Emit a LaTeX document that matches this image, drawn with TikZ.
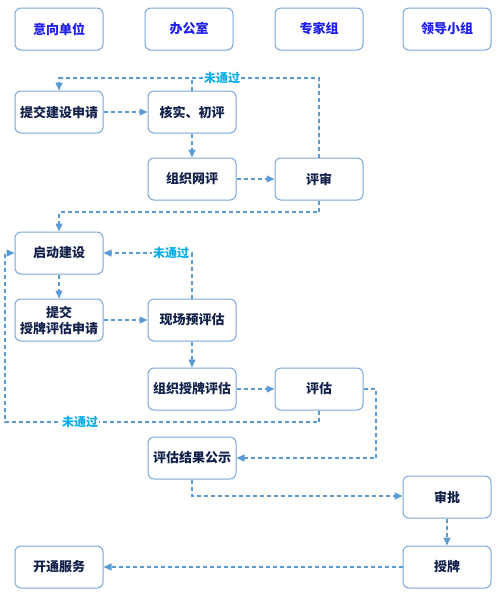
\documentclass[tikz,border=0pt]{standalone}
\usepackage{fontspec}
\setmainfont{Noto Sans CJK SC}
\usetikzlibrary{arrows.meta}
\definecolor{boxline}{HTML}{7BA7D7}
\definecolor{conn}{HTML}{5B9BD5}
\definecolor{headtxt}{HTML}{1E1EF0}
\definecolor{bodytxt}{HTML}{12204A}
\definecolor{nolabel}{HTML}{00AEEF}
\tikzset{
  box/.style={draw=boxline, line width=1pt, rounded corners=6pt, fill=white,
    minimum width=88pt, minimum height=42pt, align=center, inner sep=1pt,
    font=\bfseries\fontsize{13}{16}\selectfont, text=bodytxt},
  headbox/.style={box, text=headtxt},
  conline/.style={draw=conn, line width=1.2pt, dash pattern=on 4pt off 3pt},
  arr/.style={conline, -{Triangle[length=8pt,width=7pt]}},
  nolab/.style={fill=white, text=nolabel, inner sep=1pt,
    font=\bfseries\fontsize{12}{14}\selectfont}
}
\begin{document}
\begin{tikzpicture}[x=1pt,y=-1pt]
\useasboundingbox (0,0) rectangle (502,600);
% headers
\node[headbox] (h1) at (59,29) {意向单位};
\node[headbox] (h2) at (189,29) {办公室};
\node[headbox] (h3) at (319,29) {专家组};
\node[headbox] (h4) at (447,29) {领导小组};
% body
\node[box] (a1) at (59,112) {提交建设申请};
\node[box] (a2) at (192,112) {核实、初评};
\node[box] (b2) at (192,179) {组织网评};
\node[box] (b3) at (319,179) {评审};
\node[box] (c1) at (59,253) {启动建设};
\node[box] (d1) at (59,320) {提交\\授牌评估申请};
\node[box] (d2) at (192,320) {现场预评估};
\node[box] (e2) at (192,389) {组织授牌评估};
\node[box] (e3) at (319,389) {评估};
\node[box] (f2) at (192,458) {评估结果公示};
\node[box] (g4) at (447,497) {审批};
\node[box] (k4) at (447,567) {授牌};
\node[box] (k1) at (59,567) {开通服务};
% helper coordinates
\coordinate (r1) at (319,78);
\coordinate (r1b) at (192,78);
\coordinate (r2) at (319,212);
\coordinate (r3) at (192,253);
\coordinate (r4) at (319,422);
\coordinate (r4b) at (5,422);
\coordinate (r5) at (376,389);
\coordinate (r6) at (192,496);
% connectors
\draw[arr] (a1) -- (a2);
\draw[arr] (a2) -- (b2);
\draw[arr] (b2) -- (b3);
\draw[conline] (a2.north) -- (r1b);
\draw[arr] (b3.north) -- (r1) -| (a1.north);
\node[nolab] (l1) at (222,78) {未通过};
\draw[arr] (b3.south) -- (r2) -| (c1.north);
\draw[arr] (c1) -- (d1);
\draw[arr] (d1) -- (d2);
\draw[arr] (d2.north) -- (r3) -- (c1.east);
\node[nolab] (l2) at (171,253) {未通过};
\draw[arr] (d2) -- (e2);
\draw[arr] (e2) -- (e3);
\draw[arr] (e3.south) -- (r4) -- (r4b) |- (c1.west);
\node[nolab] (l3) at (80,422) {未通过};
\draw[arr] (e3.east) -- (r5) |- (f2.east);
\draw[arr] (f2.south) -- (r6) -- (g4.west |- r6);
\draw[arr] (g4) -- (k4);
\draw[arr] (k4) -- (k1);
\end{tikzpicture}
\end{document}
